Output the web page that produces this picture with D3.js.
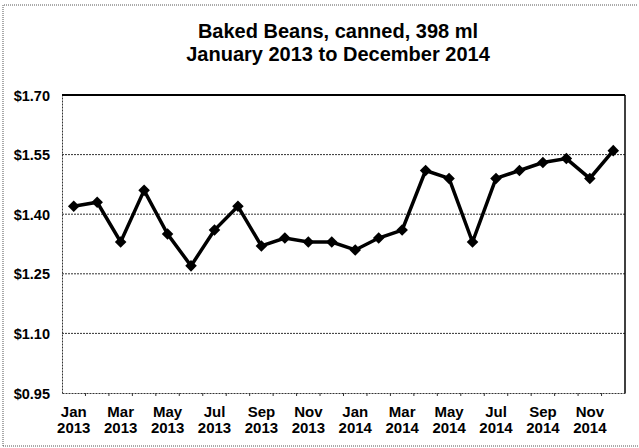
<!DOCTYPE html>
<html>
<head>
<meta charset="utf-8">
<script src="https://cdn.jsdelivr.net/npm/d3@7"></script>
<style>
  body { margin: 0; background: #fff; }
  svg text { font-family: "Liberation Sans", Arial, sans-serif; font-weight: bold; fill: #000; }
</style>
</head>
<body>
<svg class="chart"></svg>
<script>
var months = ["Jan 2013", "Feb 2013", "Mar 2013", "Apr 2013", "May 2013", "Jun 2013",
              "Jul 2013", "Aug 2013", "Sep 2013", "Oct 2013", "Nov 2013", "Dec 2013",
              "Jan 2014", "Feb 2014", "Mar 2014", "Apr 2014", "May 2014", "Jun 2014",
              "Jul 2014", "Aug 2014", "Sep 2014", "Oct 2014", "Nov 2014", "Dec 2014"];
var prices = [1.42, 1.43, 1.33, 1.46, 1.35, 1.27, 1.36, 1.42, 1.32, 1.34, 1.33, 1.33,
              1.31, 1.34, 1.36, 1.51, 1.49, 1.33, 1.49, 1.51, 1.53, 1.54, 1.49, 1.56];
var yTicks = [0.95, 1.10, 1.25, 1.40, 1.55, 1.70];
var titleLines = ["Baked Beans, canned, 398 ml", "January 2013 to December 2014"];

var W = 639, H = 448;
var margin = { top: 95, right: 14, bottom: 55, left: 62 },
    width = W - margin.left - margin.right,
    height = H - margin.top - margin.bottom;

var svg = d3.select(".chart").attr("width", W).attr("height", H);

// outer dotted frame
svg.append("path")
    .attr("d", "M3,446 L3,5 L638,5 M3,446 L638,446")
    .attr("fill", "none")
    .attr("stroke", "#555")
    .attr("stroke-width", 1)
    .attr("stroke-dasharray", "1,1");

svg.selectAll(".title").data(titleLines).enter().append("text")
    .attr("class", "title")
    .attr("x", 338)
    .attr("y", function(d, i) { return 38 + i * 23; })
    .attr("text-anchor", "middle")
    .style("font-size", "20px")
    .style("font-weight", "bold")
    .text(function(d) { return d; });

var chart = svg.append("g")
    .attr("transform", "translate(" + margin.left + "," + margin.top + ")");

var x = d3.scaleBand().domain(months).range([0, width]);
var y = d3.scaleLinear().domain([0.95, 1.70]).range([height, 0]);

// grid lines
chart.selectAll(".grid").data(yTicks.slice(1, -1)).enter().append("line")
    .attr("x1", 0).attr("x2", width)
    .attr("y1", function(d) { return y(d); })
    .attr("y2", function(d) { return y(d); })
    .attr("stroke", "#333")
    .attr("stroke-width", 1)
    .attr("stroke-dasharray", "2,1");

// y axis
var yAxis = chart.append("g")
    .call(d3.axisLeft(y).tickValues(yTicks).tickSize(0).tickPadding(12)
        .tickFormat(function(d) { return "$" + d.toFixed(2); }));
yAxis.select(".domain").attr("stroke", "#333").attr("stroke-dasharray", "2,1");
yAxis.selectAll("text").style("font-size", "14.5px").style("font-weight", "bold").attr("dy", "0.35em");

// x axis
var xAxis = chart.append("g")
    .attr("transform", "translate(0," + height + ")")
    .call(d3.axisBottom(x).tickSize(0).tickFormat(""));
xAxis.select(".domain").attr("stroke", "#333").attr("stroke-dasharray", "2,1");

chart.selectAll(".xtick").data(months.slice(1)).enter().append("line")
    .attr("x1", function(d) { return x(d); })
    .attr("x2", function(d) { return x(d); })
    .attr("y1", height).attr("y2", height + 3)
    .attr("stroke", "#333");

var labels = chart.selectAll(".xlabel")
    .data(months.filter(function(d, i) { return i % 2 === 0; }))
    .enter().append("text")
    .attr("class", "xlabel")
    .attr("text-anchor", "middle")
    .style("font-size", "15px")
    .style("font-weight", "bold")
    .attr("transform", function(d) {
        return "translate(" + (x(d) + x.bandwidth() / 2) + "," + (height + 24) + ")";
    });
labels.append("tspan").attr("x", 0).attr("y", 0)
    .text(function(d) { return d.split(" ")[0]; });
labels.append("tspan").attr("x", 0).attr("y", 16)
    .text(function(d) { return d.split(" ")[1]; });

// top and right borders
chart.append("line").attr("x1", 0).attr("x2", width).attr("y1", 0).attr("y2", 0)
    .attr("stroke", "#000").attr("stroke-width", 2);
chart.append("line").attr("x1", width).attr("x2", width).attr("y1", 0).attr("y2", height)
    .attr("stroke", "#000").attr("stroke-width", 1.5);

// series
var line = d3.line()
    .x(function(d, i) { return x(months[i]) + x.bandwidth() / 2; })
    .y(function(d) { return y(d); });

chart.append("path")
    .datum(prices)
    .attr("d", line)
    .attr("fill", "none")
    .attr("stroke", "#000")
    .attr("stroke-width", 3.5)
    .attr("stroke-linejoin", "miter");

chart.selectAll(".pt").data(prices).enter().append("path")
    .attr("class", "pt")
    .attr("d", d3.symbol().type(d3.symbolDiamond2).size(85))
    .attr("transform", function(d, i) {
        return "translate(" + (x(months[i]) + x.bandwidth() / 2) + "," + y(d) + ")";
    })
    .attr("fill", "#000");
</script>
</body>
</html>
